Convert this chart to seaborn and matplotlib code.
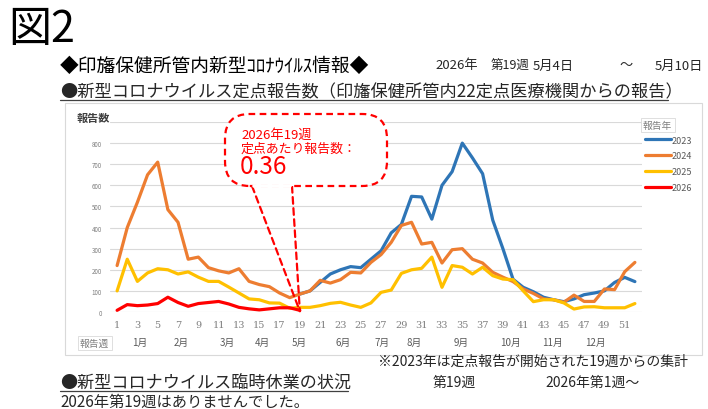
import pandas as pd
import seaborn as sns
import matplotlib.pyplot as plt
from matplotlib.lines import Line2D
from matplotlib.patches import Rectangle, FancyBboxPatch

# weekly counts
weeks = list(range(1, 53))
y2023 = [None] * 18 + [85, 100, 140, 180, 200, 215, 210, 250, 290, 375, 415, 548, 545, 440, 600, 665, 800,
                       730, 655, 435, 300, 155, 117, 96, 70, 58, 49, 62, 82, 90, 100, 140, 164, 144]
y2024 = [220, 400, 520, 650, 710, 485, 425, 250, 260, 210, 195, 185, 205, 145, 130, 120, 90, 68, 85,
         100, 150, 137, 153, 188, 185, 235, 272, 330, 410, 425, 322, 330, 232, 295, 300, 250, 232, 188, 165, 144,
         109, 88, 62, 58, 46, 80, 50, 50, 109, 106, 191, 235]
y2025 = [100, 250, 145, 185, 205, 200, 180, 190, 165, 145, 145, 118, 90, 62, 58, 43, 42, 18, 22,
         22, 30, 41, 46, 33, 22, 43, 93, 104, 183, 200, 207, 260, 117, 220, 212, 180, 212, 172, 156, 153,
         100, 49, 58, 58, 43, 14, 24, 25, 20, 20, 20, 40]
y2026 = [8, 35, 30, 33, 40, 70, 45, 27, 40, 45, 50, 38, 22, 15, 10, 15, 20, 20, 8]

years = ["2023", "2024", "2025", "2026"]
colors = ["#2E75B6", "#ED7D31", "#FFC000", "#FF0000"]
month_labels = ["1月", "2月", "3月", "4月", "5月", "6月", "7月", "8月", "9月", "10月", "11月", "12月"]
month_pos = [3.2, 7.3, 11.9, 15.3, 18.9, 23.3, 27.1, 30.3, 34.9, 39.7, 43.9, 48.1]

rows = []
for yr, vals in zip(years, [y2023, y2024, y2025, y2026]):
    for w, v in zip(weeks, vals):
        if v is not None:
            rows.append({"week": w, "value": v, "year": yr})
df = pd.DataFrame(rows)

sns.set_theme(style="white")
plt.rcParams["font.family"] = ["Noto Sans CJK JP", "DejaVu Sans"]

W, H = 708, 410
fig = plt.figure(figsize=(W / 100, H / 100), dpi=100)


def fx(x):
    return x / W


def fy(y):
    return 1 - y / H


ax = fig.add_axes([fx(110), fy(313), (642 - 110) / W, (313 - 123) / H])
sns.lineplot(data=df, x="week", y="value", hue="year", palette=dict(zip(years, colors)),
             linewidth=2.3, legend=False, ax=ax, clip_on=False)
ax.set_xlim(0.3, 52.7)
ax.set_ylim(0, 900)
ax.set_yticks(range(0, 1000, 100))
ax.set_yticklabels([str(v) for v in range(0, 900, 100)] + [""], fontsize=4.5, color="#7F7F7F")
ax.set_xticks(range(1, 53, 2))
ax.set_xticklabels([str(w) for w in range(1, 53, 2)], fontsize=7, color="#7F7F7F", family="DejaVu Serif")
ax.tick_params(length=0, pad=6)
ax.grid(axis="y", color="#D9D9D9", lw=0.8)
for s in ax.spines.values():
    s.set_visible(False)
ax.set_xlabel("")
ax.set_ylabel("")

# month row
for m, p in zip(month_labels, month_pos):
    ax.text(p, -0.16, m, transform=ax.get_xaxis_transform(), fontsize=7, color="#595959",
            ha="center", va="center")
fig.text(fx(80), fy(344), "報告週", fontsize=7, color="#7F7F7F", va="center",
         bbox=dict(boxstyle="square,pad=0.25", fc="white", ec="#D9D9D9", lw=0.6))

# chart frame
fig.patches.append(Rectangle((fx(65), fy(356)), (702 - 65) / W, (356 - 104) / H,
                             transform=fig.transFigure, fill=False, ec="#D9D9D9", lw=0.8))
fig.text(fx(77), fy(118), "報告数", fontsize=8, fontweight="bold", color="#404040", va="center")

# legend
handles = [Line2D([], [], color=c, lw=2.3) for c in colors]
fig.legend(handles, years, loc="upper left", bbox_to_anchor=(fx(640), fy(132)), frameon=False,
           fontsize=6.5, handlelength=2.9, handletextpad=0.1, labelspacing=0.75, borderpad=0,
           labelcolor="#595959")
fig.text(fx(643), fy(126), "報告年", fontsize=7, color="#7F7F7F", va="center",
         bbox=dict(boxstyle="square,pad=0.25", fc="white", ec="#D9D9D9", lw=0.6))

# callout
fig.patches.append(FancyBboxPatch((fx(225), fy(187)), (387 - 225) / W, (187 - 115) / H,
                                  boxstyle="round,pad=0,rounding_size=0.035", transform=fig.transFigure,
                                  mutation_aspect=W / H,
                                  fc="white", ec="#FF0000", lw=1.6, ls=(0, (3, 2))))
fig.add_artist(Line2D([fx(254), fx(290)], [fy(187), fy(187)], color="white", lw=2.6))
for sx in [252, 292]:
    ax.annotate("", xy=(19, 4), xycoords="data", xytext=(sx, H - 187), textcoords="figure pixels",
                arrowprops=dict(arrowstyle="-", ls=(0, (3, 2)), color="#FF0000", lw=1.6,
                                shrinkA=0, shrinkB=0))
fig.text(fx(241), fy(135), "2026年19週", fontsize=9.5, color="#FF0000", va="center")
fig.text(fx(241), fy(149), "定点あたり報告数：", fontsize=9.3, color="#FF0000", va="center")
fig.text(fx(240), fy(167), "0.36", fontsize=17.5, color="#FF0000", va="center")

# page texts
fig.text(fx(8), fy(30), "図2", fontsize=31, color="#000000", va="center")
fig.text(fx(60), fy(66), "◆印旛保健所管内新型ｺﾛﾅｳｲﾙｽ情報◆", fontsize=13.5, color="#000000",
         va="center")
fig.text(fx(435), fy(66), "2026年", fontsize=9.5, va="center")
fig.text(fx(491), fy(66), "第19週", fontsize=9, va="center")
fig.text(fx(533), fy(66), "5月4日", fontsize=9.5, va="center")
fig.text(fx(619), fy(66), "～", fontsize=9.5, va="center")
fig.text(fx(655), fy(66), "5月10日", fontsize=9.5, va="center")
fig.text(fx(60), fy(92), "●新型コロナウイルス定点報告数（印旛保健所管内22定点医療機関からの報告）",
         fontsize=12.4, va="center")
fig.add_artist(Line2D([fx(60), fx(668)], [fy(101), fy(101)], color="#404040", lw=0.9))

fig.text(fx(378), fy(362), "※2023年は定点報告が開始された19週からの集計", fontsize=10, va="center")
fig.text(fx(60), fy(383), "●新型コロナウイルス臨時休業の状況", fontsize=12.3, va="center")
fig.add_artist(Line2D([fx(60), fx(348)], [fy(392), fy(392)], color="#404040", lw=0.9))
fig.text(fx(433), fy(383), "第19週", fontsize=10, va="center")
fig.text(fx(545), fy(383), "2026年第1週～", fontsize=10, va="center")
fig.text(fx(60), fy(402), "2026年第19週はありませんでした。", fontsize=11, va="center")

fig.savefig("out.png", dpi=100)
